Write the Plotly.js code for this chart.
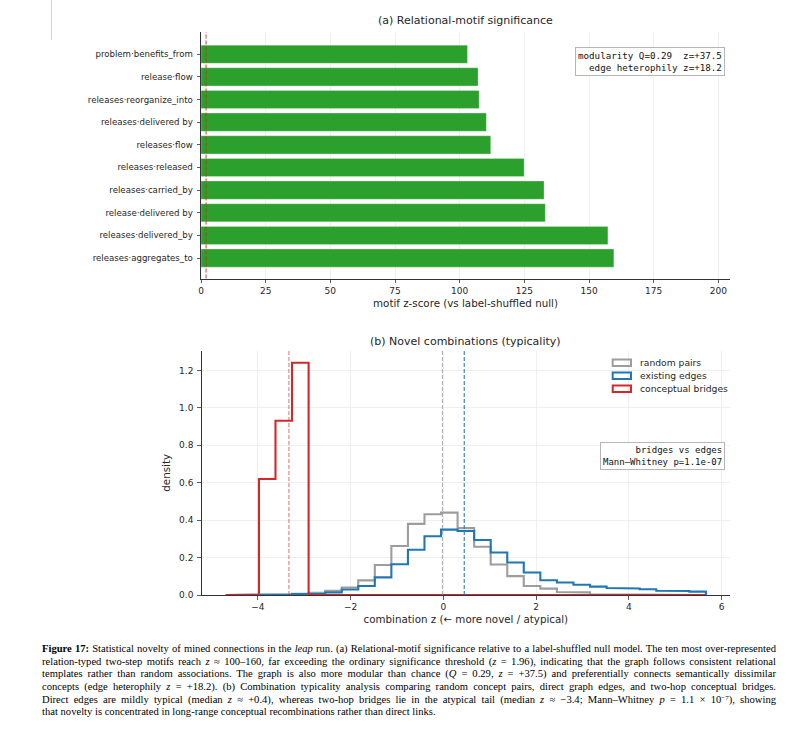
<!DOCTYPE html>
<html>
<head>
<meta charset="utf-8">
<script src="https://cdn.plot.ly/plotly-3.0.1.min.js"></script>
<style>
  html, body { margin: 0; padding: 0; background: #fff; }
  #wrap { position: relative; width: 802px; height: 733px; overflow: hidden; background: #fff; }
  #chart { position: absolute; left: 0; top: 0; width: 802px; height: 733px; }
  #pageRule { position: absolute; left: 51px; top: 0; width: 1px; height: 40px; background: #d4d4d4; }
  #caption {
    position: absolute; left: 42px; top: 643px; width: 734px;
    font-family: "Liberation Serif", "Times New Roman", serif;
    font-size: 10.6px; line-height: 12.7px; color: #000;
  }
  #caption .ln { height: 12.7px; text-align: justify; text-align-last: justify; white-space: nowrap; }
  #caption .ln.last { text-align-last: left; }
  #caption i { font-style: italic; }
  #caption sup { font-size: 7px; line-height: 0; vertical-align: 0.5em; }
</style>
</head>
<body>
<div id="wrap">
  <div id="chart"></div>
  <div id="pageRule"></div>
  <div id="caption">
    <div class="ln"><b>Figure 17:</b> Statistical novelty of mined connections in the <i>leap</i> run. (a) Relational-motif significance relative to a label-shuffled null model. The ten most over-represented</div>
    <div class="ln">relation-typed two-step motifs reach <i>z</i> ≈ 100–160, far exceeding the ordinary significance threshold (<i>z</i> = 1.96), indicating that the graph follows consistent relational</div>
    <div class="ln">templates rather than random associations. The graph is also more modular than chance (<i>Q</i> = 0.29, <i>z</i> = +37.5) and preferentially connects semantically dissimilar</div>
    <div class="ln">concepts (edge heterophily <i>z</i> = +18.2). (b) Combination typicality analysis comparing random concept pairs, direct graph edges, and two-hop conceptual bridges.</div>
    <div class="ln">Direct edges are mildly typical (median <i>z</i> ≈ +0.4), whereas two-hop bridges lie in the atypical tail (median <i>z</i> ≈ −3.4; Mann–Whitney <i>p</i> = 1.1 × 10<sup>−7</sup>), showing</div>
    <div class="ln last">that novelty is concentrated in long-range conceptual recombinations rather than direct links.</div>
  </div>
</div>
<script>
// ---------- (a) relational motifs, listed top to bottom ----------
const motifLabels = [
  'problem·benefits_from',
  'release·flow',
  'releases·reorganize_into',
  'releases·delivered by',
  'releases·flow',
  'releases·released',
  'releases·carried_by',
  'release·delivered by',
  'releases·delivered_by',
  'releases·aggregates_to'
];
const motifZ = [103.0, 107.1, 107.5, 110.3, 112.0, 124.9, 132.6, 133.1, 157.3, 159.6];
const motifTicks = [0, 25, 50, 75, 100, 125, 150, 175, 200];
const significanceZ = 1.96;
const graphStatsText = ['modularity Q=0.29  z=+37.5', 'edge heterophily z=+18.2'];

// ---------- (b) typicality histograms (shared bin edges, density) ----------
const binEdges = [
  -4.690, -4.333, -3.976, -3.619, -3.262, -2.905, -2.548, -2.191, -1.835, -1.478,
  -1.121, -0.764, -0.407, -0.050, 0.307, 0.664, 1.021, 1.378, 1.734, 2.091,
  2.448, 2.805, 3.162, 3.519, 3.876, 4.233, 4.590, 4.946, 5.303, 5.660
];
const densRandomPairs = [
  0, 0, 0.002, 0.004, 0.007, 0.012, 0.022, 0.040, 0.078, 0.160,
  0.262, 0.380, 0.431, 0.440, 0.357, 0.258, 0.163, 0.101, 0.048, 0.034,
  0.016, 0.014, 0.004, 0.002, 0, 0, 0, 0, 0
];
const densExistingEdges = [
  0, 0, 0.002, 0.003, 0.005, 0.007, 0.013, 0.029, 0.048, 0.094,
  0.164, 0.242, 0.314, 0.349, 0.342, 0.294, 0.227, 0.174, 0.120, 0.079,
  0.067, 0.055, 0.045, 0.037, 0.035, 0.031, 0.023, 0.021, 0.018
];
const densBridges = [
  0, 0, 0.620, 0.931, 1.241, 0, 0, 0, 0, 0,
  0, 0, 0, 0, 0, 0, 0, 0, 0, 0,
  0, 0, 0, 0, 0, 0, 0, 0, 0
];
const medianRandomPairs = -0.02;
const medianExistingEdges = 0.45;
const medianBridges = -3.33;
const testText = ['bridges vs edges', 'Mann–Whitney p=1.1e-07'];

// ---------- styling ----------
const W = 802, H = 733;
const GREEN = '#2ca02c';
const GRAY = 'rgba(140,140,140,0.85)';
const BLUE = '#1f77b4';
const RED = '#d62728';
const INK = '#262626';
const SPINE = '#333333';
const GRID = '#ebebeb';

// panel boxes in page pixels
const boxA = {l: 201, r: 730, t: 32, b: 278.5};
const boxB = {l: 201.7, r: 730, t: 350.7, b: 595};
const xDom = b => [b.l / W, b.r / W];
const yDom = b => [(H - b.b) / H, (H - b.t) / H];
const fx = (b, px) => (px - b.l) / (b.r - b.l);   // pixel -> x domain fraction
const fy = (b, py) => (b.b - py) / (b.b - b.t);   // pixel -> y domain fraction

// step outline of a histogram (matplotlib "step" style)
function stepOutline(edges, dens) {
  const x = [edges[0]], y = [0];
  dens.forEach((d, i) => { x.push(edges[i], edges[i + 1]); y.push(d, d); });
  x.push(edges[edges.length - 1]); y.push(0);
  return {x, y};
}

const histSeries = [
  {name: 'random pairs', dens: densRandomPairs, color: GRAY, median: medianRandomPairs, mcolor: 'rgba(150,150,150,0.75)'},
  {name: 'existing edges', dens: densExistingEdges, color: BLUE, median: medianExistingEdges, mcolor: 'rgba(31,119,180,0.95)'},
  {name: 'conceptual bridges', dens: densBridges, color: RED, median: medianBridges, mcolor: 'rgba(214,39,40,0.6)'}
];

const traces = [{
  type: 'bar', orientation: 'h',
  x: motifZ, y: motifLabels,
  xaxis: 'x', yaxis: 'y',
  width: 0.8,
  marker: {color: GREEN, line: {color: 'rgba(255,255,255,0.45)', width: 0.6}},
  hoverinfo: 'x+y'
}];
histSeries.forEach(s => {
  const p = stepOutline(binEdges, s.dens);
  traces.push({
    type: 'scatter', mode: 'lines', name: s.name,
    x: p.x, y: p.y, xaxis: 'x2', yaxis: 'y2',
    line: {color: s.color, width: 2.1, shape: 'linear'},
    showlegend: false
  });
});

const tickFont = {family: 'DejaVu Sans', size: 9, color: INK};
const titleFont = {family: 'DejaVu Sans', size: 10.3, color: INK};
const axisCommon = {
  ticks: 'outside', ticklen: 3.5, tickwidth: 0.8, tickcolor: SPINE,
  showline: true, linecolor: SPINE, linewidth: 1,
  zeroline: false, tickfont: tickFont, automargin: false
};

const shapes = [
  {type: 'line', xref: 'x', yref: 'y domain', x0: significanceZ, x1: significanceZ, y0: 0, y1: 1,
   line: {color: 'rgba(214,39,40,0.75)', width: 1.2, dash: '4px,2px'}}
];
histSeries.forEach(s => {
  shapes.push({type: 'line', xref: 'x2', yref: 'y2 domain', x0: s.median, x1: s.median, y0: 0, y1: 1,
    line: {color: s.mcolor, width: 1.1, dash: '4px,2px'}});
});

// legend for panel (b): outlined patches + labels
const legendRows = [362.7, 375.7, 388.7];
const annotations = [
  {xref: 'x domain', yref: 'y domain', x: 0.5, y: 1, yanchor: 'bottom', yshift: 3,
   text: '(a) Relational-motif significance', showarrow: false,
   font: {family: 'DejaVu Sans', size: 11, color: INK}},
  {xref: 'x2 domain', yref: 'y2 domain', x: 0.5, y: 1, yanchor: 'bottom', yshift: 1,
   text: '(b) Novel combinations (typicality)', showarrow: false,
   font: {family: 'DejaVu Sans', size: 11, color: INK}},
  {xref: 'x domain', yref: 'y domain', x: fx(boxA, 725), y: fy(boxA, 47), xanchor: 'right', yanchor: 'top',
   text: graphStatsText.map(t => t.replace(/ /g, '\u00a0')).join('<br>'), align: 'right', showarrow: false,
   font: {family: 'DejaVu Sans Mono', size: 9.2, color: '#111'},
   bgcolor: 'rgba(255,255,255,0.9)', bordercolor: '#b5b5b5', borderwidth: 1, borderpad: 2},
  {xref: 'x2 domain', yref: 'y2 domain', x: fx(boxB, 724.7), y: fy(boxB, 441.7), xanchor: 'right', yanchor: 'top',
   text: testText.map(t => t.replace(/ /g, '\u00a0')).join('<br>'), align: 'right', showarrow: false,
   font: {family: 'DejaVu Sans Mono', size: 9, color: '#111'},
   bgcolor: 'rgba(255,255,255,0.9)', bordercolor: '#b5b5b5', borderwidth: 1, borderpad: 2}
];
histSeries.forEach((s, i) => {
  const cy = legendRows[i];
  shapes.push({type: 'rect', xref: 'x2 domain', yref: 'y2 domain',
    x0: fx(boxB, 612.7), x1: fx(boxB, 631), y0: fy(boxB, cy + 3.3), y1: fy(boxB, cy - 3.3),
    line: {color: s.color, width: 2}, fillcolor: 'rgba(0,0,0,0)'});
  annotations.push({xref: 'x2 domain', yref: 'y2 domain', x: fx(boxB, 637.5), y: fy(boxB, cy),
    xanchor: 'left', yanchor: 'middle', text: s.name, showarrow: false,
    font: {family: 'DejaVu Sans', size: 9.2, color: INK}});
});

const layout = {
  width: W, height: H,
  margin: {l: 0, r: 0, t: 0, b: 0},
  paper_bgcolor: 'rgba(0,0,0,0)', plot_bgcolor: '#fff',
  showlegend: false,
  font: {family: 'DejaVu Sans', size: 9, color: INK},
  xaxis: Object.assign({}, axisCommon, {
    domain: xDom(boxA), anchor: 'y', range: [0, 204.5],
    tickmode: 'array', tickvals: motifTicks,
    showgrid: true, gridcolor: GRID, gridwidth: 0.8,
    title: {text: 'motif z-score (vs label-shuffled null)', font: titleFont, standoff: 4}
  }),
  yaxis: Object.assign({}, axisCommon, {
    domain: yDom(boxA), anchor: 'x', type: 'category',
    categoryorder: 'array', categoryarray: motifLabels,
    range: [9.9, -0.98], showgrid: false, ticklabelstandoff: 2,
    tickfont: {family: 'DejaVu Sans', size: 8.6, color: INK}
  }),
  xaxis2: Object.assign({}, axisCommon, {
    domain: xDom(boxB), anchor: 'y2', range: [-5.21, 6.18],
    tickmode: 'linear', tick0: 0, dtick: 2,
    showgrid: true, gridcolor: GRID, gridwidth: 0.8,
    title: {text: 'combination z (← more novel / atypical)', font: titleFont, standoff: 4}
  }),
  yaxis2: Object.assign({}, axisCommon, {
    domain: yDom(boxB), anchor: 'x2', range: [0, 1.305],
    tickmode: 'linear', tick0: 0, dtick: 0.2, tickformat: '.1f',
    showgrid: true, gridcolor: GRID, gridwidth: 0.8, ticklabelstandoff: 2,
    title: {text: 'density', font: titleFont, standoff: 6}
  }),
  shapes: shapes,
  annotations: annotations
};

Plotly.newPlot('chart', traces, layout, {displayModeBar: false, staticPlot: true});
</script>
</body>
</html>
